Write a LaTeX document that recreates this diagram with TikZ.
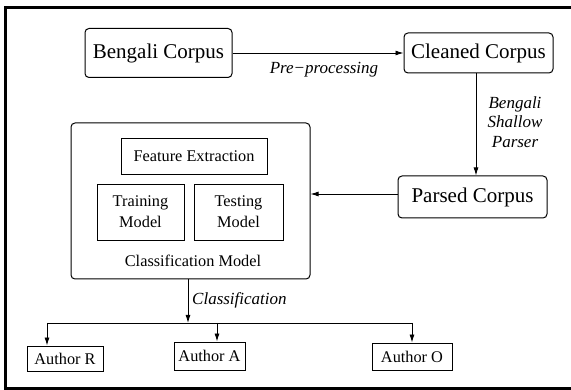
\documentclass[tikz,border=0pt]{standalone}
\usepackage{fontspec}
\setmainfont{Liberation Serif}
\usetikzlibrary{arrows.meta,calc}
\begin{document}
\begin{tikzpicture}[x=1pt,y=-1pt,
  big/.style={draw,rounded corners=4pt,line width=1pt,inner sep=0pt,font=\fontsize{21}{25}\selectfont},
  sq/.style={draw,line width=0.9pt,inner sep=0pt,align=center,font=\fontsize{16.3}{21}\selectfont},
  plain/.style={inner sep=0pt,font=\fontsize{16.3}{21}\selectfont},
  lab/.style={inner sep=0pt,font=\fontsize{17}{19.5}\selectfont\itshape,align=center},
  arr/.style={line width=0.9pt,-{Latex[length=8pt,width=5pt]}},
  ln/.style={line width=0.9pt}]
\useasboundingbox (0,0) rectangle (571,390);
\clip (0,0) rectangle (571,390);
\draw[line width=3pt] (580,7.5) -- (5.5,7.5) -- (5.5,389) -- (580,389);

\node[big,minimum width=147pt,minimum height=49pt] (bc) at (158.5,53) {Bengali Corpus};
\node[big,minimum width=149pt,minimum height=40pt] (cc) at (478.5,53) {Cleaned Corpus};
\node[big,minimum width=149pt,minimum height=42pt] (pc) at (472.5,197) {Parsed Corpus};
\node[draw,rounded corners=4pt,line width=1pt,minimum width=239pt,minimum height=156pt] (cm) at (190.5,201) {};
\node[sq,minimum width=146pt,minimum height=36pt] (fe) at (194,156) {Feature Extraction};
\node[sq,minimum width=87pt,minimum height=56pt] (tr) at (140.5,212) {Training\\Model};
\node[sq,minimum width=89pt,minimum height=56pt] (te) at (238.5,212) {Testing\\Model};
\node[plain] (cml) at (193,261) {Classification Model};
\node[sq,minimum width=76pt,minimum height=25pt] (ar) at (65,358.5) {Author R};
\node[sq,minimum width=71pt,minimum height=28pt] (aa) at (209.5,356) {Author A};
\node[sq,minimum width=80pt,minimum height=27pt] (ao) at (412,356.5) {Author O};

\node[lab] (pp) at (324,69.5) {Pre−processing};
\node[lab] (bsp) at (515,122) {Bengali\\Shallow\\Parser};
\node[lab,anchor=west] (cl) at (192,300) {Classification};

\draw[arr] (bc.east) -- (cc.west);
\draw[arr] ([xshift=-2.5pt]cc.south) -- ([xshift=-2.5pt]cc.south |- pc.north);
\draw[arr] ([yshift=3pt]pc.west) -- ([yshift=3pt]pc.west -| cm.east);
\coordinate (j) at (188,323);
\coordinate (jr) at (47,323);
\coordinate (ja) at (217,323);
\coordinate (jo) at (412,323);
\draw[arr] (cm.south -| j) -- (j);
\draw[ln] (jr) -- (jo);
\draw[arr] (jr) -- (jr |- ar.north);
\draw[arr] (ja) -- (ja |- aa.north);
\draw[arr] (jo) -- (ao.north);
\end{tikzpicture}
\end{document}
